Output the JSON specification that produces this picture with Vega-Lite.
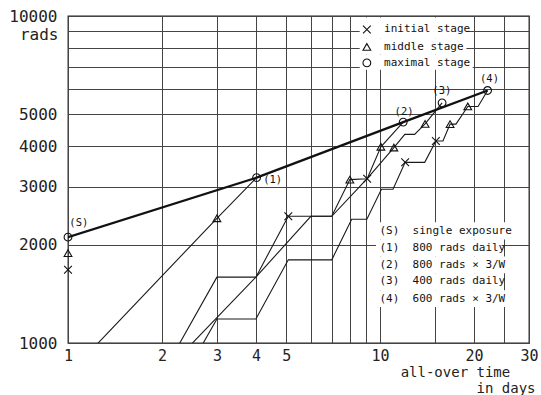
{
  "$schema": "https://vega.github.io/schema/vega-lite/v6.json",
  "width": 461,
  "height": 327,
  "autosize": {"type": "none"},
  "padding": {"left": 68, "top": 16, "right": 12, "bottom": 52},
  "background": "white",
  "config": {
    "view": {"stroke": "#222", "strokeWidth": 1.3},
    "font": "DejaVu Sans Mono"
  },
  "datasets": {
    "masks": [
      {"day": 8.6, "day2": 18.9, "dose": 8550, "dose2": 9900},
      {"day": 8.6, "day2": 18.9, "dose": 7620, "dose2": 8550},
      {"day": 8.6, "day2": 19.8, "dose": 6850, "dose2": 7620},
      {"day": 9.7, "day2": 25.8, "dose": 2074, "dose2": 2340},
      {"day": 9.7, "day2": 24.5, "dose": 1839, "dose2": 2074},
      {"day": 9.7, "day2": 27, "dose": 1635, "dose2": 1839},
      {"day": 9.7, "day2": 24.5, "dose": 1451, "dose2": 1635},
      {"day": 9.7, "day2": 27, "dose": 1288, "dose2": 1451}
    ],
    "lines": [
      {"s": "T", "day": 1, "dose": 2107},
      {"s": "T", "day": 4.02, "dose": 3203},
      {"s": "T", "day": 11.86, "dose": 4737},
      {"s": "T", "day": 22.1, "dose": 5919},
      {"s": "P1", "day": 1, "dose": 800},
      {"s": "P1", "day": 3, "dose": 2407},
      {"s": "P1", "day": 4.02, "dose": 3203},
      {"s": "PA", "day": 2, "dose": 800},
      {"s": "PA", "day": 3, "dose": 1590},
      {"s": "PA", "day": 4, "dose": 1590},
      {"s": "PA", "day": 5.08, "dose": 2441},
      {"s": "PA", "day": 7, "dose": 2441},
      {"s": "PA", "day": 8, "dose": 3160},
      {"s": "PA", "day": 9.09, "dose": 3180},
      {"s": "PA", "day": 10.06, "dose": 3981},
      {"s": "PA", "day": 11.86, "dose": 4737},
      {"s": "PB", "day": 2, "dose": 600},
      {"s": "PB", "day": 3, "dose": 1184},
      {"s": "PB", "day": 4, "dose": 1184},
      {"s": "PB", "day": 5.08, "dose": 1796},
      {"s": "PB", "day": 7, "dose": 1796},
      {"s": "PB", "day": 8.11, "dose": 2390},
      {"s": "PB", "day": 9.07, "dose": 2390},
      {"s": "PB", "day": 10.1, "dose": 2951},
      {"s": "PB", "day": 11.0, "dose": 2951},
      {"s": "PB", "day": 12.03, "dose": 3568},
      {"s": "PB", "day": 13.9, "dose": 3568},
      {"s": "PB", "day": 15.09, "dose": 4145},
      {"s": "PB", "day": 15.9, "dose": 4145},
      {"s": "PB", "day": 16.76, "dose": 4670},
      {"s": "PB", "day": 17.5, "dose": 4670},
      {"s": "PB", "day": 19.1, "dose": 5289},
      {"s": "PB", "day": 20.6, "dose": 5289},
      {"s": "PB", "day": 22.1, "dose": 5919},
      {"s": "PC", "day": 2, "dose": 800},
      {"s": "PC", "day": 4, "dose": 1590},
      {"s": "PC", "day": 6, "dose": 2441},
      {"s": "PC", "day": 7, "dose": 2441},
      {"s": "PC", "day": 9.09, "dose": 3180},
      {"s": "PC", "day": 11.07, "dose": 3960},
      {"s": "PC", "day": 12, "dose": 4345},
      {"s": "PC", "day": 12.9, "dose": 4345},
      {"s": "PC", "day": 13.94, "dose": 4677},
      {"s": "PC", "day": 15.8, "dose": 5425}
    ],
    "markers": [
      {"stage": "initial", "day": 1, "dose": 1674},
      {"stage": "initial", "day": 5.08, "dose": 2441},
      {"stage": "initial", "day": 9.09, "dose": 3180},
      {"stage": "initial", "day": 12.03, "dose": 3568},
      {"stage": "initial", "day": 15.09, "dose": 4145},
      {"stage": "middle", "day": 1, "dose": 1883},
      {"stage": "middle", "day": 3, "dose": 2407},
      {"stage": "middle", "day": 8, "dose": 3160},
      {"stage": "middle", "day": 10.06, "dose": 3981},
      {"stage": "middle", "day": 11.07, "dose": 3960},
      {"stage": "middle", "day": 13.94, "dose": 4677},
      {"stage": "middle", "day": 16.76, "dose": 4670},
      {"stage": "middle", "day": 19.1, "dose": 5289},
      {"stage": "maximal", "day": 1, "dose": 2107},
      {"stage": "maximal", "day": 4.02, "dose": 3203},
      {"stage": "maximal", "day": 11.86, "dose": 4737},
      {"stage": "maximal", "day": 15.8, "dose": 5425},
      {"stage": "maximal", "day": 22.1, "dose": 5919},
      {"stage": "initial", "day": 9.07, "dose": 9096},
      {"stage": "middle", "day": 9.07, "dose": 8041},
      {"stage": "maximal", "day": 9.07, "dose": 7187}
    ],
    "labels": [
      {"day": 1.01, "dose": 2324, "text": "(S)"},
      {"day": 4.22, "dose": 3151, "text": "(1)"},
      {"day": 11.13, "dose": 5093, "text": "(2)"},
      {"day": 14.7, "dose": 5902, "text": "(3)"},
      {"day": 20.9, "dose": 6396, "text": "(4)"}
    ],
    "legend": [
      {"day": 10.3, "dose": 9096, "text": "initial stage"},
      {"day": 10.3, "dose": 8041, "text": "middle stage"},
      {"day": 10.3, "dose": 7187, "text": "maximal stage"},
      {"day": 9.95, "dose": 2206, "text": "(S)\u00a0\u00a0single exposure"},
      {"day": 9.95, "dose": 1950, "text": "(1)\u00a0\u00a0800 rads daily"},
      {"day": 9.95, "dose": 1734, "text": "(2)\u00a0\u00a0800 rads\u00a0×\u00a03/W"},
      {"day": 9.95, "dose": 1542, "text": "(3)\u00a0\u00a0400 rads daily"},
      {"day": 9.95, "dose": 1365, "text": "(4)\u00a0\u00a0600 rads\u00a0×\u00a03/W"}
    ]
  },
  "encoding": {
    "x": {
      "field": "day",
      "type": "quantitative",
      "scale": {"type": "log", "domain": [1, 30], "nice": false, "zero": false},
      "axis": {
        "values": [1, 2, 3, 4, 5, 6, 7, 8, 9, 10, 15, 20, 25, 30],
        "labelExpr": "indexof([1,2,3,4,5,10,20,30], datum.value) >= 0 ? format(datum.value, 'd') : ''",
        "grid": true,
        "gridColor": "#444",
        "gridWidth": 1,
        "gridOpacity": 1,
        "ticks": false,
        "domain": false,
        "labelFont": "DejaVu Sans Mono",
        "labelFontSize": 15,
        "labelColor": "#222",
        "labelPadding": 5,
        "labelFlush": false,
        "labelOverlap": false,
        "title": ["all-over time\u00a0\u00a0\u00a0\u200b", "in days"],
        "titleFont": "DejaVu Sans Mono",
        "titleFontSize": 14,
        "titleFontWeight": "normal",
        "titleColor": "#222",
        "titleAlign": "right",
        "titleBaseline": "top",
        "titleLineHeight": 16,
        "titleX": 467,
        "titleY": 22
      }
    },
    "y": {
      "field": "dose",
      "type": "quantitative",
      "scale": {"type": "log", "domain": [1000, 10000], "nice": false, "zero": false},
      "axis": {
        "values": [1000, 2000, 3000, 4000, 5000, 6000, 7000, 8000, 9000, 10000],
        "labelExpr": "indexof([1000,2000,3000,4000,5000,10000], datum.value) >= 0 ? format(datum.value, 'd') : ''",
        "grid": true,
        "gridColor": "#444",
        "gridWidth": 1,
        "gridOpacity": 1,
        "ticks": false,
        "domain": false,
        "labelFont": "DejaVu Sans Mono",
        "labelFontSize": 16,
        "labelColor": "#222",
        "labelPadding": 11,
        "labelFlush": false,
        "labelOverlap": false,
        "title": "rads",
        "titleFont": "DejaVu Sans Mono",
        "titleFontSize": 16,
        "titleFontWeight": "normal",
        "titleColor": "#222",
        "titleAngle": 0,
        "titleAlign": "right",
        "titleBaseline": "middle",
        "titleX": -10,
        "titleY": 18
      }
    }
  },
  "layer": [
    {
      "data": {"name": "masks"},
      "mark": {"type": "rect", "fill": "white", "strokeWidth": 0},
      "encoding": {"x2": {"field": "day2"}, "y2": {"field": "dose2"}}
    },
    {
      "data": {"name": "lines"},
      "transform": [{"filter": "datum.s !== 'T'"}],
      "mark": {"type": "line", "clip": true, "color": "#1a1a1a", "strokeWidth": 1.1},
      "encoding": {"detail": {"field": "s", "type": "nominal"}}
    },
    {
      "data": {"name": "lines"},
      "transform": [{"filter": "datum.s === 'T'"}],
      "mark": {"type": "line", "clip": true, "color": "#111", "strokeWidth": 2.3},
      "encoding": {}
    },
    {
      "data": {"name": "markers"},
      "mark": {"type": "point", "filled": false, "color": "#111", "strokeWidth": 1.1, "opacity": 1, "size": 60},
      "encoding": {
        "shape": {
          "field": "stage",
          "type": "nominal",
          "scale": {"domain": ["initial", "middle", "maximal"], "range": ["M-1,-1L1,1M-1,1L1,-1", "triangle-up", "circle"]},
          "legend": null
        }
      }
    },
    {
      "data": {"name": "labels"},
      "mark": {"type": "text", "align": "left", "baseline": "middle", "fontSize": 10.5, "color": "#111", "font": "DejaVu Sans Mono"},
      "encoding": {"text": {"field": "text"}}
    },
    {
      "data": {"name": "legend"},
      "mark": {"type": "text", "align": "left", "baseline": "middle", "fontSize": 11, "color": "#111", "font": "DejaVu Sans Mono"},
      "encoding": {"text": {"field": "text"}}
    }
  ]
}
